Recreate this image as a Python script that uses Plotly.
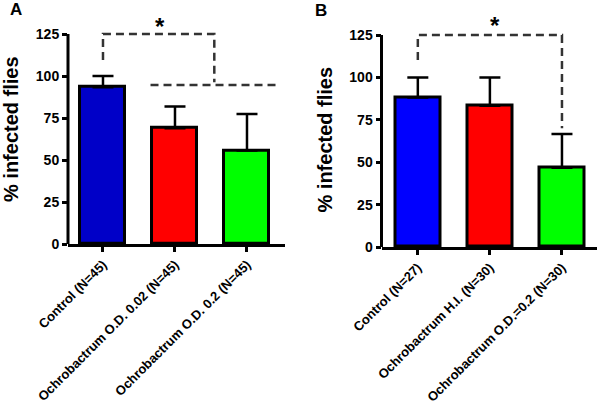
import plotly.graph_objects as go

# ---------------- data ----------------
cats_a = ["Control (N=45)", "Ochrobactrum O.D. 0.02 (N=45)", "Ochrobactrum O.D. 0.2 (N=45)"]
vals_a = [93.3, 68.9, 55.6]
err_a = [6.7, 13.0, 21.8]
colors_a = ["#0000C8", "#FF0000", "#00FF00"]

cats_b = ["Control (N=27)", "Ochrobactrum H.I. (N=30)", "Ochrobactrum O.D.=0.2 (N=30)"]
vals_b = [88.2, 83.3, 46.7]
err_b = [11.8, 16.7, 20.0]
colors_b = ["#0000FF", "#FF0000", "#00FF00"]

y_ticks = [0, 25, 50, 75, 100, 125]
y_top = 125

# significance brackets (x in category index, y in % units)
brk_a_x = [0, 0, 1.546, 1.546]
brk_a_y = [109.5, 125, 125, 96.3]
brk_a_line_x = [0.66, 2.42]
brk_a_line_y = [94.6, 94.6]
star_a = (0.79, 129.5)

brk_b_x = [0, 0, 2, 2]
brk_b_y = [110.3, 125, 125, 70]
star_b = (1.07, 130.5)

FONT = "Liberation Sans, Arial, sans-serif"
DASH = "8px,5px"
BRK_COL = "#333333"

fig = go.Figure()

def add_panel(cats, vals, errs, cols, xa, ya):
    fig.add_trace(go.Bar(
        x=list(range(len(cats))), y=vals, width=0.625,
        marker=dict(color=cols, line=dict(color="black", width=3)),
        error_y=dict(type="data", array=errs, arrayminus=[0]*len(errs), symmetric=False,
                     color="black", thickness=2.5, width=10.5),
        xaxis=xa, yaxis=ya, showlegend=False,
    ))

add_panel(cats_a, vals_a, err_a, colors_a, "x", "y")
add_panel(cats_b, vals_b, err_b, colors_b, "x2", "y2")

# brackets
for xs, ys, xa, ya in [(brk_a_x, brk_a_y, "x", "y"), (brk_a_line_x, brk_a_line_y, "x", "y"),
                        (brk_b_x, brk_b_y, "x2", "y2")]:
    fig.add_trace(go.Scatter(x=xs, y=ys, mode="lines", xaxis=xa, yaxis=ya, showlegend=False,
                             line=dict(color=BRK_COL, width=2.5, dash=DASH), hoverinfo="skip"))

axis_common = dict(showgrid=False, zeroline=False, ticks="outside", ticklen=5, tickwidth=2.5,
                   tickcolor="black", automargin=False,
                   tickfont=dict(family=FONT, size=14, color="black", weight="bold"))

xa_common = dict(axis_common, showline=True, linecolor="black", linewidth=3,
                 tickangle=-45, tickfont=dict(family=FONT, size=13, color="black", weight="bold"))

fig.update_layout(
    width=600, height=405, margin=dict(l=0, r=0, t=0, b=0, autoexpand=False),
    paper_bgcolor="white", plot_bgcolor="white", bargap=0,
    xaxis=dict(xa_common, domain=[68/600, 285/600], range=[-0.486, 2.528],
               tickvals=[0, 1, 2], ticktext=cats_a, anchor="y"),
    yaxis=dict(axis_common, domain=[(405-244)/405, (405-244+140*1.68)/405], range=[0, 140],
               tickvals=y_ticks, showline=False, anchor="x"),
    xaxis2=dict(xa_common, domain=[381.5/600, 597/600], range=[-0.504, 2.486],
                tickvals=[0, 1, 2], ticktext=cats_b, anchor="y2"),
    yaxis2=dict(axis_common, domain=[(405-247)/405, (405-247+140*1.696)/405], range=[0, 140],
                tickvals=y_ticks, showline=False, anchor="x2"),
)

# y axis lines only up to 125
for xr, yr in [("x domain", "y"), ("x2 domain", "y2")]:
    fig.add_shape(type="line", xref=xr, yref=yr, x0=0, x1=0, y0=0, y1=y_top,
                  line=dict(color="black", width=3))

# stars
for (sx, sy), xr, yr in [(star_a, "x", "y"), (star_b, "x2", "y2")]:
    fig.add_annotation(x=sx, y=sy, xref=xr, yref=yr, text="<b>*</b>", showarrow=False,
                       font=dict(family=FONT, size=24, color="black"), yanchor="middle")

# y titles and panel labels
for x, y in [(11, 129), (324, 139.5)]:
    fig.add_annotation(x=x/600, y=1-y/405, xref="paper", yref="paper", text="<b>% infected flies</b>",
                       textangle=-90, showarrow=False, xanchor="center", yanchor="middle",
                       font=dict(family=FONT, size=20, color="black"))
for t, x, y in [("A", 15.5, 9), ("B", 321, 10)]:
    fig.add_annotation(x=x/600, y=1-y/405, xref="paper", yref="paper", text="<b>%s</b>" % t,
                       showarrow=False, xanchor="center", yanchor="middle",
                       font=dict(family=FONT, size=17, color="black"))

fig.write_html("out.html", config={"displayModeBar": False},
               post_script="document.body.style.margin='0';document.body.style.padding='0';")
